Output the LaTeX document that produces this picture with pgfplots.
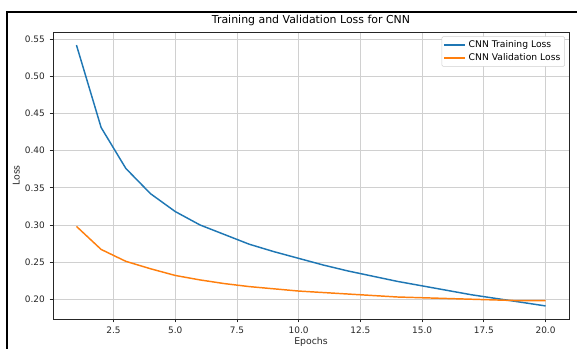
\documentclass[border=0pt]{standalone}
\usepackage{pgfplots}
\usepackage{pgfplotstable}
\pgfplotsset{compat=1.18}
\usepackage{fontspec}
\setmainfont{DejaVu Sans}
\definecolor{tabblue}{HTML}{1F77B4}
\definecolor{taborange}{HTML}{FF7F0E}
\definecolor{gridgray}{HTML}{D0D0D0}
\definecolor{txt}{HTML}{262626}
\pgfplotstableread{
epoch train
1 0.542
2 0.431
3 0.376
4 0.342
5 0.318
6 0.300
7 0.287
8 0.274
9 0.264
10 0.255
11 0.246
12 0.238
13 0.231
14 0.224
15 0.218
16 0.212
17 0.206
18 0.201
19 0.196
20 0.191
}\trainloss
\pgfplotstableread{
epoch val
1 0.298
2 0.267
3 0.251
4 0.241
5 0.232
6 0.226
7 0.221
8 0.217
9 0.214
10 0.211
11 0.209
12 0.207
13 0.205
14 0.203
15 0.202
16 0.201
17 0.200
18 0.199
19 0.198
20 0.198
}\valloss
\begin{document}
\begin{tikzpicture}[x=0.75pt,y=0.75pt]
\useasboundingbox (0,0) rectangle (577,349);
\draw[line width=1.5pt] (7,0) -- (7,337) -- (577,337);
\begin{axis}[
  at={(39.75pt,22.5pt)}, anchor=south west,
  scale only axis, width=387pt, height=215.25pt,
  xmin=0.05, xmax=20.95, ymin=0.1734, ymax=0.5596,
  xtick={2.5,5,7.5,10,12.5,15,17.5,20},
  ytick={0.20,0.25,0.30,0.35,0.40,0.45,0.50,0.55},
  xticklabel style={/pgf/number format/.cd,fixed,fixed zerofill,precision=1},
  yticklabel style={/pgf/number format/.cd,fixed,fixed zerofill,precision=2},
  /pgf/number format/assume math mode=true,
  tick label style={font=\fontsize{6.7}{7.8}\selectfont, text=txt},
  label style={font=\fontsize{7}{8}\selectfont, text=txt},
  grid=major, grid style={gridgray, line width=0.6pt},
  axis line style={txt, line width=0.6pt},
  tick style={txt, line width=0.6pt},
  tick align=outside, major tick length=2.6pt,
  xtick pos=bottom, ytick pos=left,
  title={Training and Validation Loss for CNN},
  title style={font=\fontsize{8.2}{9.5}\selectfont, text=black, yshift=-5pt},
  xlabel={Epochs}, ylabel={Loss},
  xlabel style={yshift=4.5pt},
  ylabel style={yshift=-3pt},
  legend style={font=\fontsize{6.9}{8}\selectfont, draw=gridgray, rounded corners=1pt, at={(0.992,0.985)}, anchor=north east, inner sep=1.2pt, row sep=-1.5pt},
  legend cell align=left,
  legend image code/.code={\draw[#1, line width=1.3pt] (0cm,0cm) -- (0.55cm,0cm);},
]
\addplot[tabblue, line width=1.1pt] table[x=epoch,y=train] {\trainloss};
\addlegendentry{CNN Training Loss}
\addplot[taborange, line width=1.1pt] table[x=epoch,y=val] {\valloss};
\addlegendentry{CNN Validation Loss}
\end{axis}
\end{tikzpicture}
\end{document}
